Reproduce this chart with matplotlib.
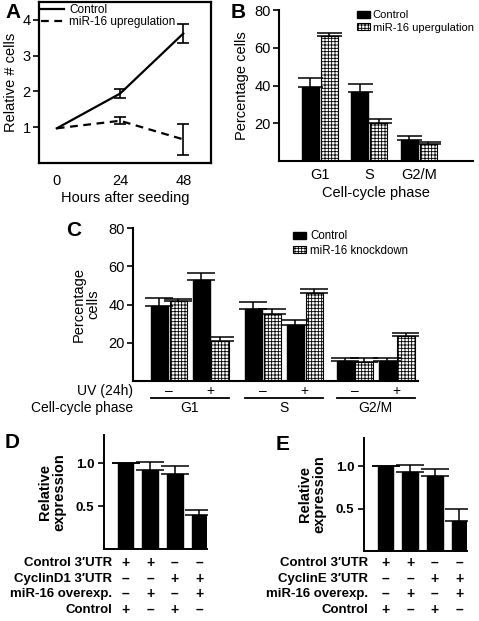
import matplotlib
matplotlib.use("Agg")
import matplotlib.pyplot as plt
import numpy as np

plt.rcParams['font.family'] = ['Liberation Sans', 'DejaVu Sans']
plt.rcParams['hatch.linewidth'] = 0.6
plt.rcParams['hatch.color'] = 'black'

W, H = 479, 621

# ---- panel A: growth curve
hours = [0, 24, 48]
ctrl_growth = [0.97, 1.94, 3.62]
ctrl_growth_err = [0.0, 0.13, 0.27]
mir_growth = [0.97, 1.18, 0.66]
mir_growth_err = [0.0, 0.10, 0.43]

# ---- panel B: cell cycle, miR-16 up
phases = ['G1', 'S', 'G2/M']
b_ctrl = [39.0, 36.3, 10.9]
b_ctrl_err = [5.0, 4.6, 2.1]
b_mir = [66.0, 20.0, 8.9]
b_mir_err = [1.7, 2.1, 1.3]

# ---- panel C: cell cycle, knockdown +/- UV
uv_signs = ['–', '+', '–', '+', '–', '+']
c_ctrl = [39.1, 52.8, 37.7, 29.3, 10.6, 10.6]
c_ctrl_err = [4.2, 3.6, 3.7, 2.4, 1.2, 1.2]
c_kd = [41.7, 21.0, 34.9, 45.9, 9.9, 23.5]
c_kd_err = [1.1, 2.2, 2.6, 2.4, 2.2, 1.8]

# ---- panels D / E: luciferase
d_rel = [1.0, 0.92, 0.88, 0.40]
d_err = [0.0, 0.09, 0.09, 0.05]
e_rel = [1.0, 0.925, 0.88, 0.35]
e_err = [0.0, 0.085, 0.09, 0.14]
row_signs = [['+', '+', '–', '–'],
             ['–', '–', '+', '+'],
             ['–', '+', '–', '+'],
             ['+', '–', '+', '–']]
d_rows = ['Control 3′UTR', 'CyclinD1 3′UTR', 'miR-16 overexp.', 'Control']
e_rows = ['Control 3′UTR', 'CyclinE 3′UTR', 'miR-16 overexp.', 'Control']

fig = plt.figure(figsize=(W / 100, H / 100), dpi=100)


def ax_px(x0, y0, x1, y1):
    # axes from pixel box (top-left origin)
    return fig.add_axes([x0 / W, 1 - y1 / H, (x1 - x0) / W, (y1 - y0) / H])


def open_axes(ax, lw=1.5):
    ax.spines['top'].set_visible(False)
    ax.spines['right'].set_visible(False)
    ax.spines['left'].set_linewidth(lw)
    ax.spines['bottom'].set_linewidth(lw)


# ================= A
axA = ax_px(39, 2, 211, 163)
axA.plot(hours, ctrl_growth, color='k', lw=1.6, label='Control')
axA.plot(hours, mir_growth, color='k', lw=1.6, ls=(0, (3.5, 2.5)),
         label='miR-16 upregulation')
axA.errorbar(hours[1:], ctrl_growth[1:], yerr=ctrl_growth_err[1:], fmt='none',
             ecolor='k', elinewidth=1.2, capsize=4, capthick=1.2)
axA.errorbar(hours[1:], mir_growth[1:], yerr=mir_growth_err[1:], fmt='none',
             ecolor='k', elinewidth=1.2, capsize=4, capthick=1.2)
axA.set_xlim(-6.75, 58.5)
axA.set_ylim(0, 4.5)
axA.set_yticks([1, 2, 3, 4])
axA.set_xticks(hours)
for s in axA.spines.values():
    s.set_linewidth(1.6)
axA.tick_params(axis='y', labelsize=10.5, length=4, width=1.2, pad=2)
axA.tick_params(axis='x', labelsize=10.5, length=0, pad=8)
axA.set_xlabel('Hours after seeding', fontsize=10.5, labelpad=2)
axA.set_ylabel('Relative # cells', fontsize=10.5, labelpad=3)
axA.legend(loc='upper left', bbox_to_anchor=(0, 1.0), frameon=False,
           fontsize=8.5, handlelength=2.0, handletextpad=0.4,
           borderaxespad=0.15, borderpad=0, labelspacing=0.05)
fig.text(5 / W, 1 - 12 / H, 'A', fontsize=15, fontweight='bold', va='center')

# ================= B
axB = ax_px(279, 10, 473, 161)
xb = np.arange(len(phases))
wb = 0.345
off = wb / 2 + 0.02
axB.bar(xb - off, b_ctrl, wb, color='k', edgecolor='k', label='Control',
        yerr=[np.zeros(3), b_ctrl_err], capsize=9,
        error_kw=dict(elinewidth=1.1, capthick=1.1, ecolor='k'))
axB.bar(xb + off, b_mir, wb, color='white', edgecolor='k', lw=0.8,
        hatch='+++++', label='miR-16 upergulation',
        yerr=[np.zeros(3), b_mir_err], capsize=9,
        error_kw=dict(elinewidth=1.1, capthick=1.1, ecolor='k'))
axB.set_xlim(-0.83, 3.1)
axB.set_ylim(0, 80)
axB.set_yticks([20, 40, 60, 80])
axB.set_xticks(xb)
axB.set_xticklabels(phases)
open_axes(axB)
axB.tick_params(axis='y', labelsize=10.5, length=4, width=1.2, pad=2)
axB.tick_params(axis='x', labelsize=10.5, length=0, pad=5)
axB.set_xlabel('Cell-cycle phase', fontsize=10.5, labelpad=3)
axB.set_ylabel('Percentage cells', fontsize=10.5, labelpad=4)
axB.legend(loc='upper left', bbox_to_anchor=(0.4, 1.0), frameon=False,
           fontsize=8.0, handlelength=1.2, handleheight=0.6,
           handletextpad=0.25, borderaxespad=0, borderpad=0,
           labelspacing=0.25)
fig.text(231 / W, 1 - 12 / H, 'B', fontsize=15, fontweight='bold', va='center')

# ================= C
axC = ax_px(133, 228, 418, 381)
xc = np.array([0, 1, 2.24, 3.24, 4.43, 5.43])
wc = 0.41
offc = wc / 2 + 0.02
axC.bar(xc - offc, c_ctrl, wc, color='k', edgecolor='k', label='Control',
        yerr=[np.zeros(6), c_ctrl_err], capsize=10,
        error_kw=dict(elinewidth=1.1, capthick=1.1, ecolor='k'))
axC.bar(xc + offc, c_kd, wc, color='white', edgecolor='k', lw=0.8,
        hatch='+++++', label='miR-16 knockdown',
        yerr=[np.zeros(6), c_kd_err], capsize=10,
        error_kw=dict(elinewidth=1.1, capthick=1.1, ecolor='k'))
axC.set_xlim(-0.85, 5.94)
axC.set_ylim(0, 80)
axC.set_yticks([20, 40, 60, 80])
axC.set_xticks([])
open_axes(axC)
axC.tick_params(axis='y', labelsize=10.5, length=4, width=1.2, pad=2)
axC.set_ylabel('Percentage\ncells', fontsize=10.5, labelpad=6,
               linespacing=1.0)
axC.legend(loc='upper left', bbox_to_anchor=(0.56, 0.985), frameon=False,
           fontsize=8.3, handlelength=1.2, handleheight=0.6,
           handletextpad=0.3, borderaxespad=0, borderpad=0,
           labelspacing=0.2)
tC = axC.get_xaxis_transform()
axC.text(-0.85, -0.065, 'UV (24h)', transform=tC, ha='right', va='center',
         fontsize=10, clip_on=False)
for x, s in zip(xc, uv_signs):
    axC.text(x, -0.065, s, transform=tC, ha='center', va='center',
             fontsize=10, clip_on=False)
axC.text(-0.85, -0.175, 'Cell-cycle phase', transform=tC, ha='right',
         va='center', fontsize=10, clip_on=False)
for g, name in enumerate(phases):
    left = xc[2 * g] - offc - wc / 2
    right = xc[2 * g + 1] + offc + wc / 2
    axC.plot([left, right], [-0.11, -0.11], transform=tC, color='k', lw=1.3,
             clip_on=False)
    axC.text((left + right) / 2, -0.175, name, transform=tC, ha='center',
             va='center', fontsize=10, clip_on=False)
fig.text(66 / W, 1 - 230 / H, 'C', fontsize=15, fontweight='bold',
         va='center')


# ================= D / E
def luc_panel(box, vals, errs, rows, label_x, letter, letter_xy):
    ax = ax_px(*box)
    xs = np.arange(len(vals))
    ax.bar(xs, vals, 0.64, color='k', edgecolor='k',
           yerr=[np.zeros(len(vals)), errs], capsize=10,
           error_kw=dict(elinewidth=1.1, capthick=1.1, ecolor='k'))
    ax.set_xlim(-0.88, 3.31)
    ax.set_ylim(0, 1.33)
    ax.set_yticks([0.5, 1.0])
    ax.set_yticklabels(['0.5', '1.0'], fontweight='bold')
    ax.set_xticks([])
    open_axes(ax, lw=1.4)
    ax.tick_params(axis='y', labelsize=9.5, length=4, width=1.2, pad=3)
    ax.set_ylabel('Relative\nexpression', fontsize=10.5, fontweight='bold',
                  labelpad=7, linespacing=1.0)
    y_rows = [563, 579, 594, 610]
    for r, (name, signs) in enumerate(zip(rows, row_signs)):
        yf = 1 - y_rows[r] / H
        fig.text(label_x / W, yf, name, ha='right', va='center',
                 fontsize=9.5, fontweight='bold')
        for x, s in zip(xs, signs):
            ax.text(x, (H - y_rows[r] - (H - box[3])) / (box[3] - box[1]),
                    s, transform=ax.get_xaxis_transform(), ha='center',
                    va='center', fontsize=10, fontweight='bold',
                    clip_on=False)
    fig.text(letter_xy[0] / W, 1 - letter_xy[1] / H, letter, fontsize=15,
             fontweight='bold', va='center')
    return ax


luc_panel((104, 435, 207, 549), d_rel, d_err, d_rows, 112, 'D', (5, 443))
luc_panel((364, 438, 467, 551), e_rel, e_err, e_rows, 368, 'E', (276, 444))

fig.savefig('out.png', dpi=100)
